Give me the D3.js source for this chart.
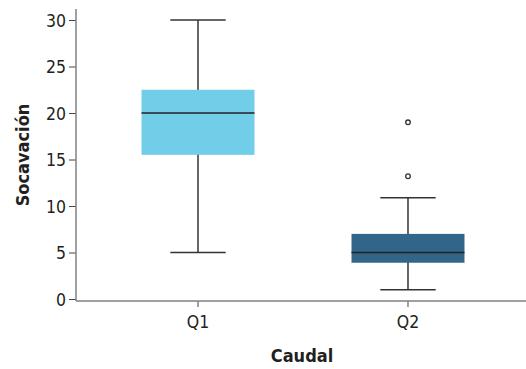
<!DOCTYPE html>
<html>
<head>
<meta charset="utf-8">
<script src="https://cdn.jsdelivr.net/npm/d3@7"></script>
<style>
  body { margin: 0; background: #fff; }
  text { font-family: "DejaVu Sans Condensed", "Liberation Sans Narrow", sans-serif; font-stretch: condensed; fill: #231f20; }
</style>
</head>
<body>
<svg id="chart" width="526" height="369"></svg>
<script>
// box plot values
const groups = ['Q1', 'Q2'];
const whiskerLow = [5, 1];
const boxLow = [15.5, 3.9];
const medians = [20, 5];
const boxHigh = [22.5, 7];
const whiskerHigh = [30, 10.9];
const outliers = [[], [13.2, 19]];
const fills = ['#72cde8', '#31668a'];
const yTicks = [0, 5, 10, 15, 20, 25, 30];

const svg = d3.select('#chart');

const x = d3.scaleBand()
	.domain(groups)
	.range([76, 530])
	.paddingInner(0.462)
	.paddingOuter(0.312);

const y = d3.scaleLinear()
	.domain([0, 30])
	.range([299, 20]);

const data = groups.map((g, i) => ({
	g: g,
	lo: whiskerLow[i],
	q1: boxLow[i],
	med: medians[i],
	q3: boxHigh[i],
	hi: whiskerHigh[i],
	out: outliers[i],
	fill: fills[i]
}));

// axes
const yAxis = svg.append('g')
	.attr('transform', 'translate(76,0)')
	.call(d3.axisLeft(y).tickValues(yTicks).tickSize(7).tickPadding(3).tickSizeOuter(0));
yAxis.select('.domain').remove();
yAxis.attr('font-family', null);
yAxis.selectAll('.tick line').attr('stroke', '#444');
yAxis.selectAll('.tick text').attr('font-size', 17.5).attr('dy', '0.35em');

svg.append('line')
	.attr('x1', 76).attr('x2', 76)
	.attr('y1', 9).attr('y2', 301)
	.attr('stroke', '#808080').attr('stroke-width', 1.5);

const xAxis = svg.append('g')
	.attr('transform', 'translate(0,301)')
	.call(d3.axisBottom(x).tickSize(6).tickPadding(9).tickSizeOuter(0));
xAxis.select('.domain').remove();
xAxis.attr('font-family', null);
xAxis.selectAll('.tick line').attr('stroke', '#444');
xAxis.selectAll('.tick text').attr('font-size', 17.5);

svg.append('line')
	.attr('x1', 76).attr('x2', 526)
	.attr('y1', 301).attr('y2', 301)
	.attr('stroke', '#808080').attr('stroke-width', 1.5);

// boxes
const items = svg.selectAll('g.box')
	.data(data)
	.enter()
	.append('g')
	.attr('class', 'box');

const cx = d => x(d.g) + x.bandwidth() / 2;
const capW = x.bandwidth() * 0.49;

items.append('line')
	.attr('x1', cx).attr('x2', cx)
	.attr('y1', d => y(d.hi)).attr('y2', d => y(d.lo))
	.attr('stroke', '#333').attr('stroke-width', 1.5);

items.selectAll('line.cap')
	.data(d => [d.lo, d.hi].map(v => ({ c: cx(d), v: v })))
	.enter()
	.append('line')
	.attr('class', 'cap')
	.attr('x1', d => d.c - capW / 2).attr('x2', d => d.c + capW / 2)
	.attr('y1', d => y(d.v)).attr('y2', d => y(d.v))
	.attr('stroke', '#333').attr('stroke-width', 1.5);

items.append('rect')
	.attr('x', d => x(d.g))
	.attr('width', x.bandwidth())
	.attr('y', d => y(d.q3))
	.attr('height', d => y(d.q1) - y(d.q3))
	.attr('fill', d => d.fill);

items.append('line')
	.attr('x1', d => x(d.g)).attr('x2', d => x(d.g) + x.bandwidth())
	.attr('y1', d => y(d.med)).attr('y2', d => y(d.med))
	.attr('stroke', '#222').attr('stroke-width', 1.5);

items.selectAll('circle')
	.data(d => d.out.map(v => ({ c: cx(d), v: v })))
	.enter()
	.append('circle')
	.attr('cx', d => d.c)
	.attr('cy', d => y(d.v))
	.attr('r', 2.3)
	.attr('fill', '#fff')
	.attr('stroke', '#333')
	.attr('stroke-width', 1.3);

// axis titles
svg.append('text')
	.text('Caudal')
	.attr('x', 302)
	.attr('y', 362)
	.attr('text-anchor', 'middle')
	.attr('font-size', 18)
	.attr('font-weight', 'bold');

svg.append('text')
	.text('Socavación')
	.attr('transform', 'translate(29,155) rotate(-90)')
	.attr('text-anchor', 'middle')
	.attr('font-size', 18)
	.attr('font-weight', 'bold');
</script>
</body>
</html>
